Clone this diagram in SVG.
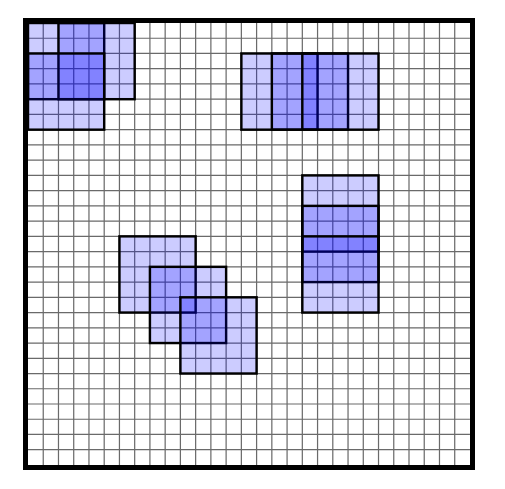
<svg xmlns="http://www.w3.org/2000/svg" width="505" height="489" viewBox="0 0 505 489">
<style>
.grid{fill:none;stroke:#6a6a6a;stroke-width:0.08}
.win{fill:#0000ff;fill-opacity:0.2;stroke:#000;stroke-width:0.16}
.frame{fill:none;stroke:#000;stroke-width:5}
</style>
<rect width="505" height="489" fill="#fff"/>
<g transform="translate(28,23) scale(15.24)">
<path class="grid" d="M1 0V29M2 0V29M3 0V29M4 0V29M5 0V29M6 0V29M7 0V29M8 0V29M9 0V29M10 0V29M11 0V29M12 0V29M13 0V29M14 0V29M15 0V29M16 0V29M17 0V29M18 0V29M19 0V29M20 0V29M21 0V29M22 0V29M23 0V29M24 0V29M25 0V29M26 0V29M27 0V29M28 0V29M0 1H29M0 2H29M0 3H29M0 4H29M0 5H29M0 6H29M0 7H29M0 8H29M0 9H29M0 10H29M0 11H29M0 12H29M0 13H29M0 14H29M0 15H29M0 16H29M0 17H29M0 18H29M0 19H29M0 20H29M0 21H29M0 22H29M0 23H29M0 24H29M0 25H29M0 26H29M0 27H29M0 28H29"/>
<g id="corner">
<rect class="win" x="0" y="0" width="5" height="5"/>
<rect class="win" x="2" y="0" width="5" height="5"/>
<rect class="win" x="0" y="2" width="5" height="5"/>
</g>
<g id="horizontal">
<rect class="win" x="14" y="2" width="5" height="5"/>
<rect class="win" x="16" y="2" width="5" height="5"/>
<rect class="win" x="18" y="2" width="5" height="5"/>
</g>
<g id="vertical">
<rect class="win" x="18" y="10" width="5" height="5"/>
<rect class="win" x="18" y="12" width="5" height="5"/>
<rect class="win" x="18" y="14" width="5" height="5"/>
</g>
<g id="diagonal">
<rect class="win" x="6" y="14" width="5" height="5"/>
<rect class="win" x="8" y="16" width="5" height="5"/>
<rect class="win" x="10" y="18" width="5" height="5"/>
</g>
</g>
<rect class="frame" x="25.5" y="20.5" width="447" height="447"/>
</svg>
